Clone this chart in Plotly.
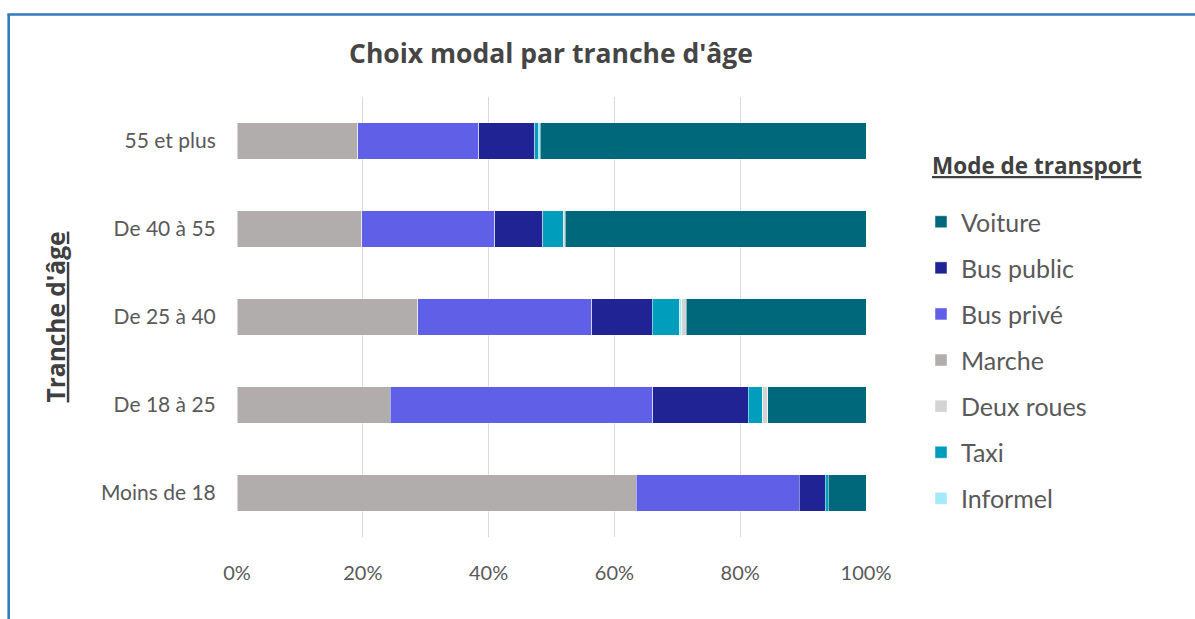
import plotly.graph_objects as go

# Age groups (bottom to top on the chart)
age_groups = ["Moins de 18", "De 18 à 25", "De 25 à 40", "De 40 à 55", "55 et plus"]

# Modal share (%) per age group, same order as age_groups
marche     = [63.5, 24.4, 28.7, 19.8, 19.2]
bus_prive  = [25.9, 41.7, 27.7, 21.2, 19.2]
bus_public = [4.1, 15.2, 9.6, 7.6, 8.9]
taxi       = [0.5, 2.3, 4.3, 3.3, 0.7]
informel   = [0.0, 0.0, 0.4, 0.0, 0.2]
deux_roues = [0.0, 0.8, 0.7, 0.3, 0.0]
voiture    = [6.0, 15.6, 28.6, 47.8, 51.8]

x_ticks = [0, 20, 40, 60, 80, 100]
x_tick_labels = ["0%", "20%", "40%", "60%", "80%", "100%"]

# (name, values, colour, legend rank) in stacking order left -> right
series = [
    ("Marche", marche, "#b0adac", 4),
    ("Bus privé", bus_prive, "#5f5fe8", 3),
    ("Bus public", bus_public, "#1f2393", 2),
    ("Taxi", taxi, "#009dbd", 6),
    ("Informel", informel, "#a3e9f9", 7),
    ("Deux roues", deux_roues, "#d3d3d3", 5),
    ("Voiture", voiture, "#00687b", 1),
]

W, H = 1195, 619
ML, MR, MT, MB = 237, 329, 97, 82

fig = go.Figure()
for name, vals, color, rank in series:
    fig.add_trace(go.Bar(
        y=age_groups, x=vals, name=name, orientation="h",
        marker=dict(color=color, line=dict(color="rgba(255,255,255,0.6)", width=0.8)),
        legendrank=rank, legendgroup=name,
    ))

# Helpers to convert page pixels into paper coordinates
def px_x(p):
    return (p - ML) / (W - ML - MR)

def px_y(p):
    return (H - MB - p) / (H - MT - MB)

frame_color = "#3579bd"
fig.add_shape(type="line", xref="paper", yref="paper",
              x0=px_x(8.7), x1=px_x(8.7), y0=px_y(14.5), y1=px_y(H + 5),
              line=dict(color=frame_color, width=2.6))
fig.add_shape(type="line", xref="paper", yref="paper",
              x0=px_x(7.4), x1=px_x(W + 5), y0=px_y(14.5), y1=px_y(14.5),
              line=dict(color=frame_color, width=2.6))

heading_font = "Open Sans"

# Legend heading
fig.add_annotation(text="<b><u>Mode de transport</u></b>", xref="paper", yref="paper",
                   x=px_x(930), xanchor="left", y=px_y(165), yanchor="middle",
                   showarrow=False,
                   font=dict(family=heading_font, size=22.5, color="#404040"))

fig.update_layout(
    width=W, height=H,
    margin=dict(l=ML, r=MR, t=MT, b=MB),
    barmode="stack", bargap=0.58,
    plot_bgcolor="white", paper_bgcolor="white",
    title=dict(text="<b>Choix modal par tranche d'âge</b>", xref="paper", x=px_x(551),
               xanchor="center", yref="container", y=1 - 54 / H, yanchor="middle",
               font=dict(family=heading_font, size=26.5, color="#454545")),
    xaxis=dict(range=[0, 100], tickvals=x_ticks, ticktext=x_tick_labels,
               showgrid=True, gridcolor="#d9d9d9", gridwidth=1.3, zeroline=False,
               showline=False, ticks="outside", ticklen=18, tickcolor="rgba(0,0,0,0)",
               tickfont=dict(family="Lato", size=20, color="#595959"), fixedrange=True),
    yaxis=dict(categoryorder="array", categoryarray=age_groups,
               showgrid=False, zeroline=False, showline=False,
               ticks="outside", ticklen=16, tickcolor="rgba(0,0,0,0)",
               tickfont=dict(family="Lato", size=21, color="#595959"),
               title=dict(text="<b><u>Tranche d'âge</u></b>", standoff=28,
                          font=dict(family=heading_font, size=24.5, color="#404040"))),
    legend=dict(
        x=px_x(921), xanchor="left", y=px_y(199), yanchor="top",
        font=dict(family="Lato", size=25, color="#595959"),
        tracegroupgap=10.6, itemwidth=30, bgcolor="rgba(0,0,0,0)",
    ),
    showlegend=True,
)

fig.write_html("out.html")
